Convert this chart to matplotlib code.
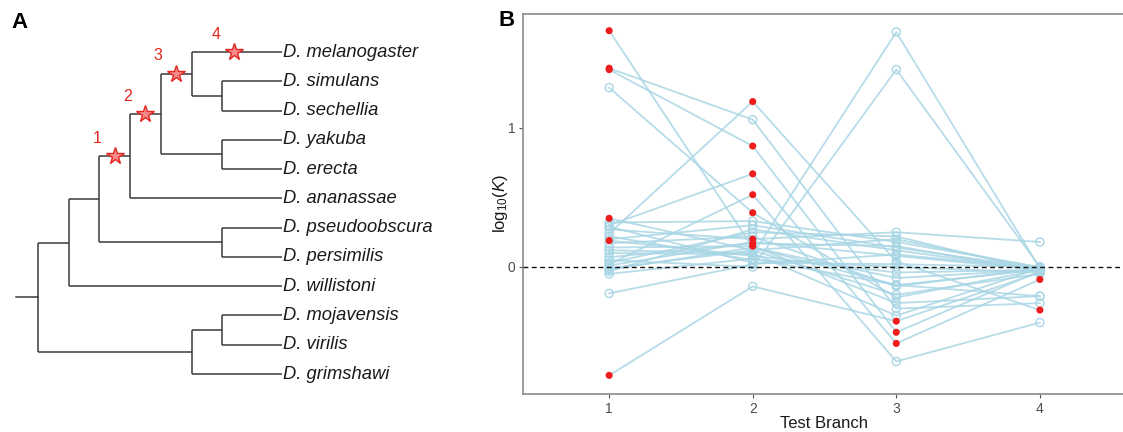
import matplotlib
matplotlib.use("Agg")
import matplotlib.pyplot as plt
import numpy as np

plt.rcParams['font.family'] = ['Liberation Sans', 'DejaVu Sans']
plt.rcParams['mathtext.fontset'] = 'custom'
plt.rcParams['mathtext.rm'] = 'Liberation Sans'
plt.rcParams['mathtext.it'] = 'Liberation Sans:italic'

# ---------------- Panel A data: tree ----------------
tips = ["D. melanogaster", "D. simulans", "D. sechellia", "D. yakuba", "D. erecta",
        "D. ananassae", "D. pseudoobscura", "D. persimilis", "D. willistoni",
        "D. mojavensis", "D. virilis", "D. grimshawi"]
# internal nodes: name -> (depth level, children)
nodes = {
    "root": (0, ["A", "B"]),
    "A": (1, ["C", "D. willistoni"]),
    "C": (2, ["D", "E"]),
    "E": (6, ["D. pseudoobscura", "D. persimilis"]),
    "D": (3, ["F", "D. ananassae"]),
    "F": (4, ["G", "H"]),
    "H": (6, ["D. yakuba", "D. erecta"]),
    "G": (5, ["D. melanogaster", "I"]),
    "I": (6, ["D. simulans", "D. sechellia"]),
    "B": (5, ["J", "D. grimshawi"]),
    "J": (6, ["D. mojavensis", "D. virilis"]),
}
tip_depth = 7.95
root_stub = -0.72
# test branches (leading to node/tip), with label and position along branch
test_branches = [("D", "1", 0.5), ("F", "2", 0.5), ("G", "3", 0.5), ("D. melanogaster", "4", 0.47)]

# ---------------- Panel B data ----------------
branches = [1, 2, 3, 4]
b1 = [1.70, 1.43, 1.42, 1.29, 0.24, 0.35, 0.19, -0.78, -0.19, 0.10, 0.05, 0.30, 0.02, 0.27,
      0.07, 0.14, 0.32, -0.03, 0.22, 0.17, -0.01, 0.01, -0.05, 0.03, 0.12, 0.29, -0.02, 0.20]
b2 = [0.14, 1.06, 0.87, 0.39, 1.19, 0.12, 0.08, -0.14, 0.02, 0.09, 0.00, 0.67, 0.52, 0.20,
      0.17, 0.15, 0.33, 0.27, 0.05, 0.22, 0.12, 0.18, 0.06, 0.25, 0.10, 0.03, 0.14, 0.30]
b3 = [-0.13, -0.30, -0.47, -0.22, 0.04, 0.20, -0.04, -0.39, 0.09, 1.69, 1.42, -0.55, -0.68, 0.25,
      0.15, -0.26, 0.18, 0.12, 0.00, -0.14, -0.20, 0.08, -0.13, 0.22, -0.35, 0.02, -0.08, 0.14]
b4 = [-0.02, -0.26, -0.03, -0.02, -0.31, -0.01, -0.02, -0.04, -0.01, -0.01, 0.00, -0.09, -0.40, 0.18,
      -0.03, -0.21, 0.00, -0.02, -0.04, -0.01, -0.05, -0.02, -0.21, -0.03, -0.01, 0.00, -0.02, -0.01]
s1 = [1, 1, 1, 0, 0, 1, 1, 1, 0, 0, 0, 0, 0, 0, 0, 0, 0, 0, 0, 0, 0, 0, 0, 0, 0, 0, 0, 0]
s2 = [0, 0, 1, 1, 1, 0, 0, 0, 0, 0, 0, 1, 1, 1, 1, 1, 0, 0, 0, 0, 0, 0, 0, 0, 0, 0, 0, 0]
s3 = [0, 0, 1, 0, 0, 0, 0, 1, 0, 0, 0, 1, 0, 0, 0, 0, 0, 0, 0, 0, 0, 0, 0, 0, 0, 0, 0, 0]
s4 = [0, 0, 0, 0, 1, 0, 0, 0, 0, 0, 0, 1, 0, 0, 0, 0, 0, 0, 0, 0, 0, 0, 0, 0, 0, 0, 0, 0]
y_ticks = [0, 1]

# ---------------- figure ----------------
W, H = 1123, 432
fig = plt.figure(figsize=(W / 100, H / 100), dpi=100)

# ---- Panel A ----
axA = fig.add_axes([0, 0, 505 / W, 1])
axA.set_xlim(-1.238, 15.21)
axA.set_ylim(12.98, -1.777)
axA.axis('off')

ypos = {t: i for i, t in enumerate(tips)}
xpos = {t: tip_depth for t in tips}


def place(n):
    if n in ypos:
        return ypos[n]
    d, ch = nodes[n]
    ys = [place(c) for c in ch]
    ypos[n] = float(np.mean(ys))
    xpos[n] = d
    return ypos[n]


place("root")
parent = {}
for n, (d, ch) in nodes.items():
    for c in ch:
        parent[c] = n

lc = '#3a3a3a'
lw = 1.1
for n, (d, ch) in nodes.items():
    ys = [ypos[c] for c in ch]
    axA.plot([d, d], [min(ys), max(ys)], color=lc, lw=lw, solid_capstyle='butt')
    for c in ch:
        axA.plot([d, xpos[c]], [ypos[c], ypos[c]], color=lc, lw=lw, solid_capstyle='butt')
axA.plot([root_stub, 0], [ypos["root"], ypos["root"]], color=lc, lw=lw)

for t in tips:
    axA.text(tip_depth + 0.04, ypos[t], t, ha='left', va='center', fontsize=13.2,
             style='italic', color='#1a1a1a')

for node, lab, frac in test_branches:
    p = parent[node]
    x0, x1 = xpos[p], xpos[node]
    xs = x0 + frac * (x1 - x0)
    axA.plot([xs], [ypos[node]], marker='*', ms=13, mfc='#f58a8a', mec='#e3261f', mew=1.0,
             zorder=5)
    axA.annotate(lab, (xs, ypos[node]), xytext=(-18, 18), textcoords='offset pixels',
                 ha='center', va='center', color='#e3261f', fontsize=11.5)

fig.text(20 / W, 1 - 22 / H, "A", fontsize=16, fontweight='bold', ha='center', va='center')
fig.text(507 / W, 1 - 20 / H, "B", fontsize=16, fontweight='bold', ha='center', va='center')

# ---- Panel B ----
left, right = 523 / W, 1126 / W
bottom, top = 1 - 394 / H, 1 - 14 / H
axB = fig.add_axes([left, bottom, right - left, top - bottom])
axB.set_xlim(0.4, 4.6)
axB.set_ylim(-0.914, 1.820)

vals = np.array([b1, b2, b3, b4])
sigs = np.array([s1, s2, s3, s4])
lb = '#a9d6e5'
for g in range(vals.shape[1]):
    axB.plot(branches, vals[:, g], color=lb, lw=1.3, alpha=0.85, zorder=2)
for i, b in enumerate(branches):
    ns = sigs[i] == 0
    axB.scatter(np.full(ns.sum(), b), vals[i][ns], s=34, facecolors='none',
                edgecolors=lb, linewidths=1.0, zorder=3)
axB.axhline(0, color='#111111', ls=(0, (3.5, 2.5)), lw=1.0, zorder=4)
for i, b in enumerate(branches):
    sg = sigs[i] == 1
    axB.scatter(np.full(sg.sum(), b), vals[i][sg], s=26, color='#ee1c1c', edgecolors='none',
                zorder=5)

for sp in axB.spines.values():
    sp.set_color('#8a8a8a')
    sp.set_linewidth(1.2)
axB.set_xticks(branches)
axB.set_xticklabels([str(b) for b in branches])
axB.set_yticks(y_ticks)
axB.set_yticklabels([str(t) for t in y_ticks])
axB.tick_params(colors='#555555', labelcolor='#4d4d4d', labelsize=10, length=3, width=0.8, pad=2.5)
axB.set_xlabel("Test Branch", fontsize=12, color='#1a1a1a', labelpad=0)
axB.set_ylabel(r"log$_{10}$($K$)", fontsize=12, color='#1a1a1a', labelpad=-2)

fig.savefig("out.png", dpi=100)
